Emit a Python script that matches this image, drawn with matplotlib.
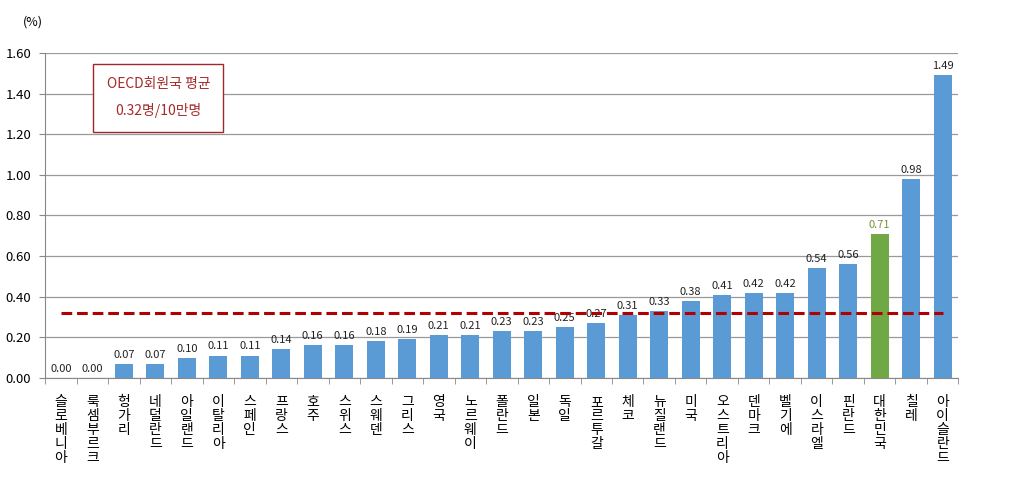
import matplotlib.pyplot as plt
import numpy as np

plt.rcParams['font.family'] = ['Noto Sans CJK KR', 'DejaVu Sans']

countries = ['슬로베니아', '룩셈부르크', '헝가리', '네덜란드', '아일랜드', '이탈리아', '스페인',
             '프랑스', '호주', '스위스', '스웨덴', '그리스', '영국', '노르웨이', '폴란드', '일본',
             '독일', '포르투갈', '체코', '뉴질랜드', '미국', '오스트리아', '덴마크', '벨기에',
             '이스라엘', '핀란드', '대한민국', '칠레', '아이슬란드']
values = [0.00, 0.00, 0.07, 0.07, 0.10, 0.11, 0.11, 0.14, 0.16, 0.16, 0.18, 0.19, 0.21,
          0.21, 0.23, 0.23, 0.25, 0.27, 0.31, 0.33, 0.38, 0.41, 0.42, 0.42, 0.54, 0.56,
          0.71, 0.98, 1.49]
oecd_avg = 0.32
highlight = '대한민국'

blue = '#5B9BD5'
green = '#70A845'

fig = plt.figure(figsize=(10.24, 4.82), dpi=100)
ax = fig.add_axes([0.044, 0.216, 0.892, 0.674])

x = np.arange(len(countries))
colors = [green if c == highlight else blue for c in countries]
ax.bar(x, values, width=0.58, color=colors, zorder=3)

for xi, v, c in zip(x, values, countries):
    ax.text(xi, v + 0.02, f'{v:.2f}', ha='center', va='bottom', fontsize=8,
            color='#77933C' if c == highlight else '#222222', zorder=4)

# OECD average line
ax.plot([x[0], x[-1]], [oecd_avg, oecd_avg], color='#B00000', lw=2.2,
        ls=(0, (3.5, 1.6)), zorder=5)

ax.set_xlim(-0.5, len(countries) - 0.5)
ax.set_ylim(0, 1.6)
ax.set_yticks(np.arange(0, 1.61, 0.2))
ax.set_yticklabels([f'{t:.2f}' for t in np.arange(0, 1.61, 0.2)], fontsize=9.5)
ax.yaxis.grid(True, color='#999999', lw=0.9, zorder=0)

ax.set_xticks(x)
ax.set_xticklabels(['\n'.join(c) for c in countries], fontsize=10, va='top',
                   linespacing=1.0)
ax.set_xticks(np.arange(-0.5, len(countries), 1), minor=True)
ax.tick_params(axis='x', which='major', length=0, pad=12)
ax.tick_params(axis='x', which='minor', length=4, color='#888888')
ax.tick_params(axis='y', length=4, color='#888888', pad=6)

for s in ['top', 'right']:
    ax.spines[s].set_visible(False)
for s in ['left', 'bottom']:
    ax.spines[s].set_color('#888888')

fig.text(0.032, 0.955, '(%)', fontsize=9, ha='center', va='center')

ax.text(0.124, 0.862, 'OECD회원국 평균\n0.32명/10만명', transform=ax.transAxes,
        ha='center', va='center', fontsize=10, color='#A52A2A', linespacing=2.0,
        bbox=dict(boxstyle='square,pad=0.95', fc='white', ec='#A0282C', lw=1))

fig.savefig('out.png', dpi=100)
